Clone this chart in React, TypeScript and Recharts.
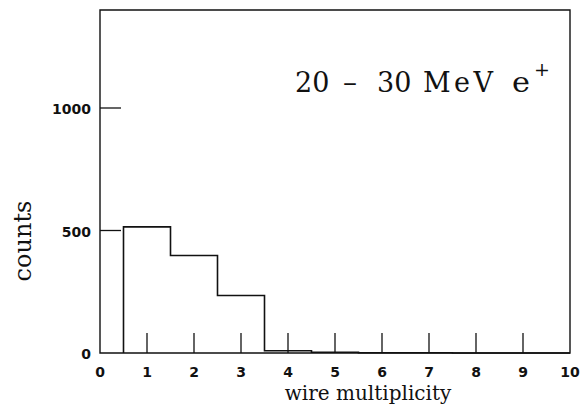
import React from 'react';
import { ComposedChart, Line, XAxis, YAxis, ReferenceArea } from 'recharts';

// Histogram: bin lower edges (and the upper edge of the last bin) and counts
const binEdges = [0.5, 1.5, 2.5, 3.5, 4.5, 5.5, 6.5, 7.5, 8.5, 9.5, 10];
const counts = [515, 398, 235, 9, 3, 1, 1, 0, 0, 0];

const xTicks = [0, 1, 2, 3, 4, 5, 6, 7, 8, 9, 10];
const yTicks = [0, 500, 1000];

const xTitle = 'wire multiplicity';
const yTitle = 'counts';

// step-series built from the bins
const histData = [
  { x: binEdges[0], y: 0 },
  ...counts.map((c, i) => ({ x: binEdges[i], y: c })),
  { x: binEdges[binEdges.length - 1], y: counts[counts.length - 1] },
];

const INK = '#111';
const SERIF = "'DejaVu Serif', serif";
const tickStyle = { fontFamily: "'DejaVu Sans', sans-serif", fontSize: 14, fontWeight: 700 };

const XTick = (props: any) => {
  const { x, y, payload } = props;
  const v = payload.value;
  const inner = v !== 0 && v !== 10;
  return (
    <g>
      {inner && <line x1={x} x2={x} y1={y} y2={y - 20} stroke={INK} strokeWidth={1.3} />}
      <text x={x} y={y + 19} textAnchor="middle" dominantBaseline="central" fill={INK} style={tickStyle}>
        {v}
      </text>
    </g>
  );
};

const YTick = (props: any) => {
  const { x, y, payload } = props;
  const v = payload.value;
  return (
    <g>
      {v !== 0 && <line x1={x} x2={x + 21} y1={y} y2={y} stroke={INK} strokeWidth={1.3} />}
      <text x={x - 9} y={y + 1} textAnchor="end" dominantBaseline="central" fill={INK} style={tickStyle}>
        {v}
      </text>
    </g>
  );
};

export default function App() {
  return (
    <div style={{ position: 'absolute', left: 0, top: 0, width: 581, height: 419, background: '#fff' }}>
      <ComposedChart
        width={581}
        height={419}
        data={histData}
        margin={{ top: 10, right: 11, left: 0, bottom: 0 }}
      >
        <XAxis
          dataKey="x"
          type="number"
          domain={[0, 10]}
          ticks={xTicks}
          interval={0}
          height={66}
          axisLine={false}
          tickLine={false}
          tickSize={0}
          tickMargin={0}
          tick={<XTick />}
          label={{
            content: () => (
              <text x={368} y={400} textAnchor="middle" fill={INK} style={{ fontFamily: SERIF, fontSize: 20 }}>
                {xTitle}
              </text>
            ),
          }}
        />
        <YAxis
          type="number"
          domain={[0, 1400]}
          ticks={yTicks}
          interval={0}
          width={100}
          axisLine={false}
          tickLine={false}
          tickSize={0}
          tickMargin={0}
          tick={<YTick />}
          label={{
            content: () => (
              <text
                x={31}
                y={241}
                textAnchor="middle"
                transform="rotate(-90, 31, 241)"
                fill={INK}
                style={{ fontFamily: SERIF, fontSize: 24 }}
              >
                {yTitle}
              </text>
            ),
          }}
        />
        <ReferenceArea x1={0} x2={10} y1={0} y2={1400} fill="none" stroke={INK} strokeWidth={1.4} ifOverflow="visible" />
        <Line
          type="stepAfter"
          dataKey="y"
          stroke={INK}
          strokeWidth={1.6}
          dot={false}
          activeDot={false}
          isAnimationActive={false}
        />
      </ComposedChart>
      <svg width={581} height={419} style={{ position: 'absolute', left: 0, top: 0, pointerEvents: 'none' }}>
        <g fill={INK} style={{ fontFamily: SERIF, fontSize: 27 }}>
          <text x={295} y={92}>20</text>
          <text x={343} y={92} textLength={14} lengthAdjust="spacingAndGlyphs">–</text>
          <text x={377} y={92}>30</text>
          <text x={423} y={92} textLength={70} lengthAdjust="spacing">MeV</text>
          <text x={512} y={92} textLength={18} lengthAdjust="spacingAndGlyphs">e</text>
          <text x={534} y={76} style={{ fontSize: 19 }}>+</text>
        </g>
      </svg>
    </div>
  );
}
